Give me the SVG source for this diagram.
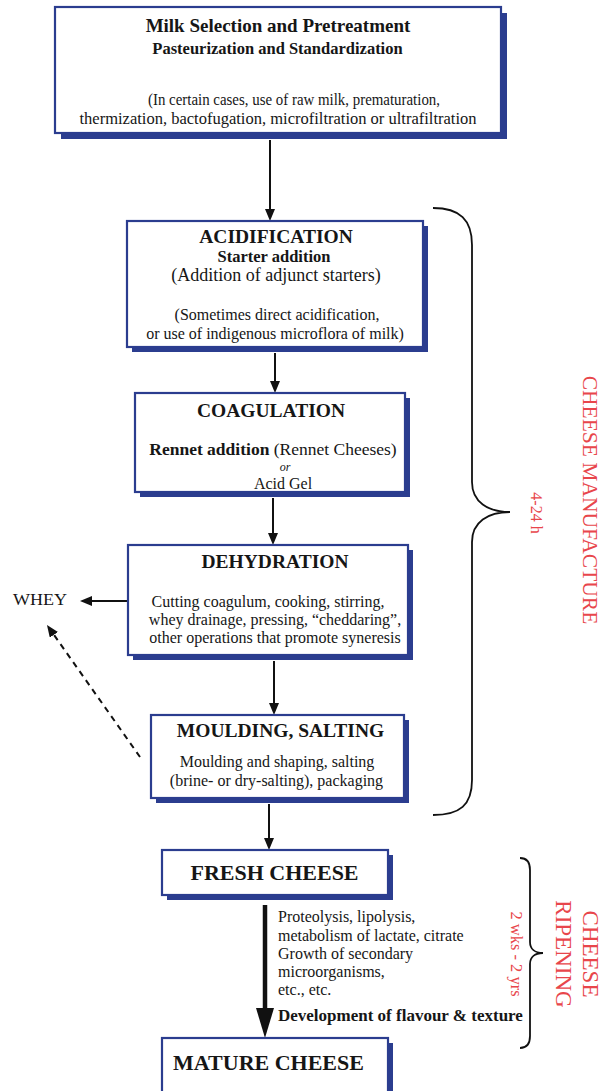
<svg xmlns="http://www.w3.org/2000/svg" width="602" height="1091" viewBox="0 0 602 1091">
<style>
text{font-family:"Liberation Serif","Times New Roman",serif;fill:#161616}
.c{text-anchor:middle}
.b{font-weight:bold}
.h{font-size:19.5px;font-weight:bold}
.t{font-size:16px}
.red{fill:#e8464b}
.box{fill:#fff;stroke:#2b3d8f;stroke-width:2.2}
.sh{fill:#2b3d8f}
.ln{stroke:#111;stroke-width:2;fill:none}
.br{stroke:#111;stroke-width:1.8;fill:none}
</style>
<defs>
<marker id="arr" markerUnits="userSpaceOnUse" viewBox="0 0 12 10" refX="0" refY="5" markerWidth="12" markerHeight="10" orient="auto"><path d="M0,0L12,5L0,10z" fill="#111"/></marker>
<marker id="big" markerUnits="userSpaceOnUse" viewBox="0 0 30 18" refX="0" refY="9" markerWidth="30" markerHeight="18" orient="auto"><path d="M0,0L30,9L0,18z" fill="#111"/></marker>
</defs>

<g id="connectors">
<line class="ln" x1="270" y1="140" x2="270" y2="209" marker-end="url(#arr)"/>
<line class="ln" x1="275" y1="353" x2="275" y2="381" marker-end="url(#arr)"/>
<line class="ln" x1="273" y1="498" x2="273" y2="533" marker-end="url(#arr)"/>
<line class="ln" x1="274" y1="661" x2="274" y2="703" marker-end="url(#arr)"/>
<line class="ln" x1="269" y1="804" x2="269" y2="838" marker-end="url(#arr)"/>
<line class="ln" x1="128" y1="601" x2="92" y2="601" marker-end="url(#arr)"/>
<line class="ln" x1="140" y1="757" x2="53.9" y2="634.8" stroke-dasharray="6,5" marker-end="url(#arr)"/>
<line x1="265" y1="905" x2="265" y2="1008" stroke="#111" stroke-width="4.5" marker-end="url(#big)"/>
</g>

<g id="brace-manufacture">
<path class="br" d="M433,208 C460,208 472,220 472,245 L472,482 C472,502 488,512 510,512 C488,512 472,522 472,542 L472,780 C472,805 460,815 433,815"/>
<text class="red" font-size="21.5" text-anchor="middle" transform="translate(583,500) rotate(90)">CHEESE MANUFACTURE</text>
<text class="red" font-size="16" text-anchor="middle" transform="translate(531,513) rotate(90)">4-24 h</text>
</g>

<g id="brace-ripening">
<path class="br" d="M520,858 C527,858 530,862 530,870 L530,942 C530,949 535,953 543,953 C535,953 530,957 530,964 L530,1036 C530,1044 527,1048 520,1048"/>
<text class="red" font-size="16.5" text-anchor="middle" transform="translate(511,954) rotate(90)">2 wks - 2 yrs</text>
<text class="red" font-size="23" text-anchor="middle" transform="translate(583,954) rotate(90)">CHEESE</text>
<text class="red" font-size="23" text-anchor="middle" transform="translate(556,954) rotate(90)">RIPENING</text>
</g>

<g id="milk-selection">
<rect class="sh" x="61" y="13" width="446" height="126"/>
<rect class="box" x="55" y="7" width="446" height="126"/>
<text class="c b" x="278" y="32" font-size="19">Milk Selection and Pretreatment</text>
<text class="c b" x="277.5" y="54" font-size="16.5">Pasteurization and Standardization</text>
<text class="t" x="148" y="105" textLength="292" lengthAdjust="spacingAndGlyphs">(In certain cases, use of raw milk, prematuration,</text>
<text class="c t" x="278" y="124" textLength="397" lengthAdjust="spacingAndGlyphs">thermization, bactofugation, microfiltration or ultrafiltration</text>
</g>

<g id="acidification">
<rect class="sh" x="132" y="226" width="296" height="126"/>
<rect class="box" x="127" y="221" width="296" height="126"/>
<text class="c h" x="276" y="243">ACIDIFICATION</text>
<text class="c b" x="274" y="262" font-size="16.5">Starter addition</text>
<text class="c" x="276" y="281" font-size="18">(Addition of adjunct starters)</text>
<text class="c t" x="277" y="320">(Sometimes direct acidification,</text>
<text class="c t" x="275" y="339">or use of indigenous microflora of milk)</text>
</g>

<g id="coagulation">
<rect class="sh" x="140" y="398" width="270" height="99"/>
<rect class="box" x="135" y="393" width="270" height="99"/>
<text class="c h" x="271" y="417">COAGULATION</text>
<text class="c" x="273" y="455" font-size="17.5"><tspan class="b">Rennet addition</tspan> (Rennet Cheeses)</text>
<text class="c" x="285" y="471" font-size="12" font-style="italic">or</text>
<text class="c t" x="283" y="489">Acid Gel</text>
</g>

<g id="dehydration">
<rect class="sh" x="133" y="550" width="280" height="110"/>
<rect class="box" x="128" y="545" width="280" height="110"/>
<text class="c h" x="275" y="568">DEHYDRATION</text>
<text class="c t" x="268" y="607">Cutting coagulum, cooking, stirring,</text>
<text class="c t" x="275" y="625">whey drainage, pressing, “cheddaring”,</text>
<text class="c t" x="275" y="643">other operations that promote syneresis</text>
</g>

<g id="whey">
<text x="13" y="605" font-size="17" textLength="54" lengthAdjust="spacingAndGlyphs">WHEY</text>
</g>

<g id="moulding-salting">
<rect class="sh" x="156" y="720" width="253" height="83"/>
<rect class="box" x="151" y="715" width="253" height="83"/>
<text class="c h" x="280.5" y="737">MOULDING, SALTING</text>
<text class="c t" x="277" y="767">Moulding and shaping, salting</text>
<text class="c t" x="276.5" y="786">(brine- or dry-salting), packaging</text>
</g>

<g id="fresh-cheese">
<rect class="sh" x="167" y="855" width="226" height="45"/>
<rect class="box" x="162" y="850" width="226" height="45"/>
<text class="c b" x="274.5" y="880" font-size="22">FRESH CHEESE</text>
</g>

<g id="ripening-notes">
<text class="t" x="278" y="922">Proteolysis, lipolysis,</text>
<text class="t" x="278" y="941">metabolism of lactate, citrate</text>
<text class="t" x="278" y="959">Growth of secondary</text>
<text class="t" x="278" y="977">microorganisms,</text>
<text class="t" x="278" y="995">etc., etc.</text>
<text class="b" x="278" y="1021" font-size="17">Development of flavour &amp; texture</text>
</g>

<g id="mature-cheese">
<rect class="sh" x="167" y="1043" width="226" height="60"/>
<rect class="box" x="162" y="1038" width="226" height="60"/>
<text class="c b" x="268.5" y="1070" font-size="22">MATURE CHEESE</text>
</g>
</svg>
